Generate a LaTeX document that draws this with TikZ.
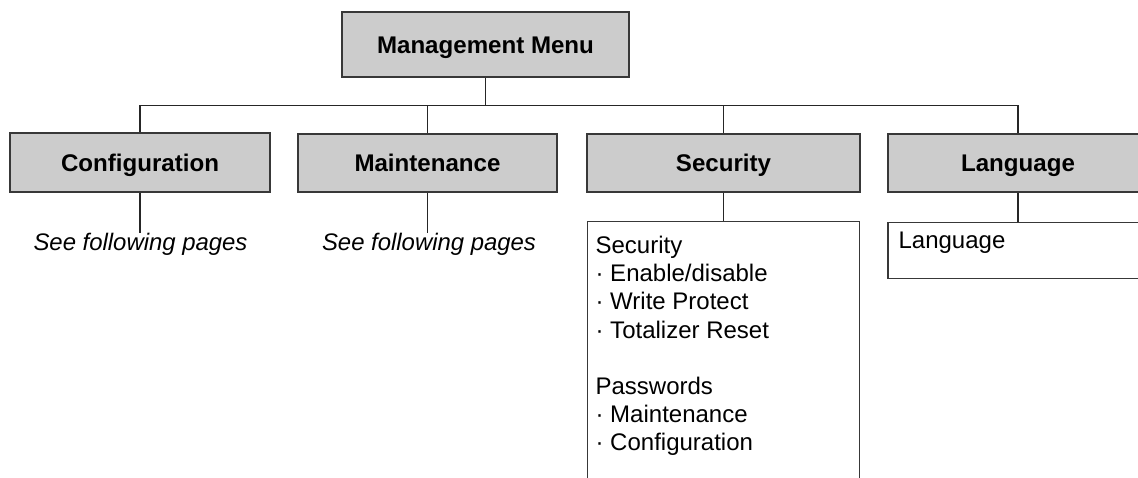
\documentclass[tikz,border=0pt]{standalone}
\usepackage{fontspec}
\setmainfont{Liberation Sans}
\begin{document}
\begin{tikzpicture}[x=1pt,y=-1pt,
  line width=1.2pt,
  lc/.style={draw=black!78},
  head/.style={lc, fill=black!20, font=\fontsize{24.1}{28}\selectfont\bfseries,
    text height=17.3pt, text depth=0pt, inner sep=0pt},
  content/.style={lc, fill=white, inner sep=0pt},
  body/.style={font=\fontsize{24}{28.2}\selectfont, align=left, inner sep=0pt, anchor=north west},
  note/.style={font=\fontsize{23.9}{28}\selectfont\itshape, inner sep=0pt, anchor=base},
  conn/.style={draw=black!85, line width=1.2pt}
]
\useasboundingbox (0,0) rectangle (1138,477);
\fill[white] (0,0) rectangle (1138,477);

\node[head, minimum width=287pt, minimum height=65pt] (mm) at (485.5,44.5) {Management Menu};
\node[head, minimum width=260pt, minimum height=59pt] (conf) at (140,162.5) {Configuration};
\node[head, minimum width=259pt, minimum height=58pt] (maint) at (427.5,163) {Maintenance};
\node[head, minimum width=273pt, minimum height=58pt] (sec) at (723.5,163) {Security};
\node[head, minimum width=260pt, minimum height=58pt] (lang) at (1018,163) {Language};

\coordinate (bus) at (0,105.5);

\node[content, anchor=north, minimum width=272pt, minimum height=290pt] (secc) at (723.5,221) {};
\node[content, anchor=north, minimum width=260pt, minimum height=56pt] (langc) at (1018,222) {};

\node[body] (sectext) at (595,235.5) {Security\\
\textperiodcentered{} Enable/disable\\
\textperiodcentered{} Write Protect\\
\textperiodcentered{} Totalizer Reset\\[28.2pt]
Passwords\\
\textperiodcentered{} Maintenance\\
\textperiodcentered{} Configuration};
\node[body] (langtext) at (898,231.5) {Language};

\node[note] (seeA) at (140.5,250.5) {See following pages};
\node[note] (seeB) at (429,250.5) {See following pages};

\draw[conn] (mm.south) -- (mm.south |- bus);
\draw[conn] (conf.north) |- (lang.north |- bus) -- (lang.north);
\draw[conn] (maint.north) -- (maint.north |- bus);
\draw[conn] (sec.north) -- (sec.north |- bus);
\draw[conn] (conf.south) -- (seeA.north -| conf.south);
\draw[conn] (maint.south) -- (seeB.north -| maint.south);
\draw[conn] (sec.south) -- (secc.north);
\draw[conn] (lang.south) -- (langc.north);
\end{tikzpicture}
\end{document}
